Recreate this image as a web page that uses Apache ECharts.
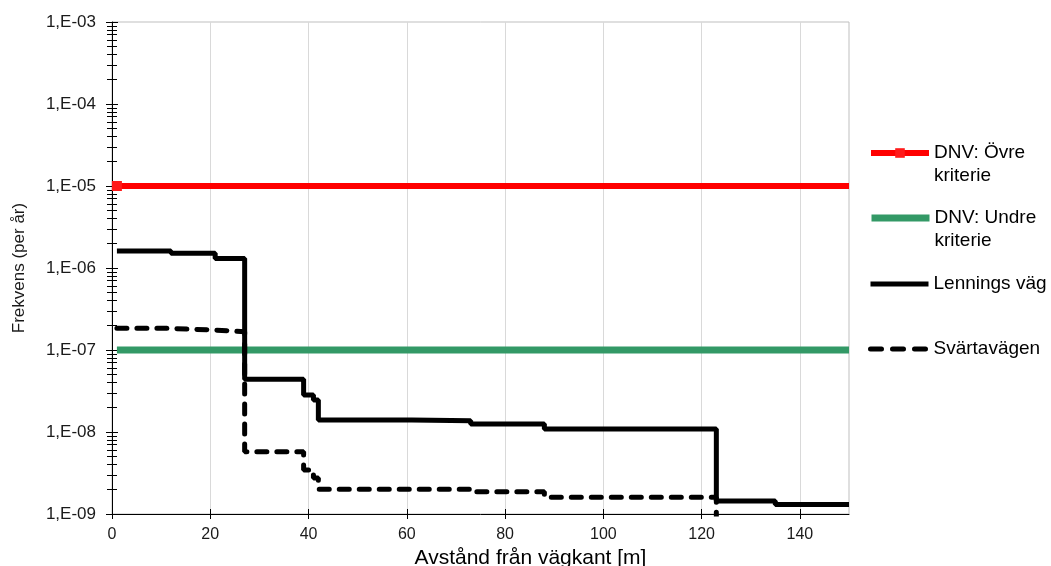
<!DOCTYPE html>
<html>
<head>
<meta charset="utf-8">
<script src="https://cdn.jsdelivr.net/npm/echarts@6/dist/echarts.min.js"></script>
<style>
html,body{margin:0;padding:0;background:#fff;}
#chart{width:1051px;height:566px;}
</style>
</head>
<body>
<div id="chart"></div>
<script>
// Distance (m) where each step begins, and frequency (per year)
var lenningsX = [1, 12, 21, 27, 39, 41, 42, 61, 73, 88, 123, 135, 150];
var lenningsY = [1.61e-6, 1.51e-6, 1.31e-6, 4.4e-8, 2.83e-8, 2.45e-8, 1.40e-8, 1.37e-8, 1.25e-8, 1.09e-8, 1.44e-9, 1.31e-9, 1.31e-9];
var svartaX = [1, 11, 21, 27, 39, 41, 42, 73, 88, 123, 150];
var svartaY = [1.84e-7, 1.75e-7, 1.67e-7, 5.75e-9, 3.44e-9, 2.75e-9, 2.0e-9, 1.87e-9, 1.60e-9, 5e-10, 5e-10];
var upperX = [1, 150];
var upperY = [1e-5, 1e-5];
var lowerX = [1, 150];
var lowerY = [1e-7, 1e-7];
var xTicks = [0, 20, 40, 60, 80, 100, 120, 140];
var yTickExp = [-9, -8, -7, -6, -5, -4, -3];
var yTickLabels = ['1,E-09', '1,E-08', '1,E-07', '1,E-06', '1,E-05', '1,E-04', '1,E-03'];
var seriesNames = ['DNV: Övre kriterie', 'DNV: Undre kriterie', 'Lennings väg', 'Svärtavägen'];

function zip(xs, ys) { return xs.map(function (x, i) { return [x, ys[i]]; }); }
function yLabel(v) {
  var e = Math.round(Math.log10(v));
  var i = yTickExp.indexOf(e);
  return i >= 0 ? yTickLabels[i] : '';
}

var FONT = 'Liberation Sans';
var chart = echarts.init(document.getElementById('chart'), null, {renderer: 'canvas'});

var upperData = zip(upperX, upperY).map(function (p, i) {
  return i === 0 ? {value: p} : {value: p, symbol: 'none'};
});

function legendItem(name, centerY, lineStyle, hideSymbol) {
  var lh = 23;
  var twoLine = /^DNV/.test(name);
  var o = {
    data: [name],
    left: 868, top: centerY - (twoLine ? lh * 1.5 : lh / 2), padding: 0,
    itemWidth: 58, itemHeight: 12, itemGap: 0,
    formatter: function (n) { return /^DNV/.test(n) ? n.replace(/^(DNV: \S+) /, '\n$1\n') : n; },
    textStyle: {fontFamily: FONT, fontSize: 19, color: '#000', lineHeight: lh},
    lineStyle: lineStyle,
    selectedMode: false
  };
  if (hideSymbol) o.itemStyle = {color: 'rgba(0,0,0,0)', borderWidth: 0};
  return o;
}

var option = {
  animation: false,
  backgroundColor: '#fff',
  grid: {left: 112, right: 202, top: 22, bottom: 52, show: true, borderColor: '#bfbfbf', borderWidth: 1,
         containLabel: false, outerBoundsMode: 'none'},
  legend: [
    legendItem(seriesNames[0], 153, {width: 6}, false),
    legendItem(seriesNames[1], 218, {width: 7}, true),
    legendItem(seriesNames[2], 284, {width: 5}, true),
    legendItem(seriesNames[3], 349, {width: 5, type: [11, 11], cap: 'round'}, true)
  ],
  xAxis: [{
    type: 'value', min: 0, max: 150, interval: 20,
    name: 'Avstånd från vägkant [m]', nameLocation: 'middle', nameGap: 34,
    nameTextStyle: {fontFamily: FONT, fontSize: 21, color: '#000', padding: [0, 0, 0, 100]},
    axisLine: {lineStyle: {color: '#000', width: 1}},
    axisTick: {show: true, inside: false, length: 5, lineStyle: {color: '#000'}, customValues: xTicks},
    axisLabel: {fontFamily: FONT, fontSize: 16, color: '#1a1a1a', margin: 13, customValues: xTicks},
    splitLine: {show: true, lineStyle: {color: '#d9d9d9', width: 1}}
  }, {
    type: 'value', min: 0, max: 150, interval: 20, position: 'bottom', gridIndex: 0,
    axisLine: {show: false},
    axisTick: {show: true, inside: true, length: 5, lineStyle: {color: '#000'}, customValues: xTicks},
    axisLabel: {show: false},
    splitLine: {show: false}
  }],
  yAxis: [{
    type: 'log', logBase: 10, min: 1e-9, max: 1e-3,
    name: 'Frekvens (per år)', nameLocation: 'middle', nameGap: 84, nameRotate: 90,
    nameTextStyle: {fontFamily: FONT, fontSize: 17, color: '#1a1a1a'},
    axisLine: {show: true, lineStyle: {color: '#000', width: 1}},
    axisTick: {show: true, inside: false, length: 6, lineStyle: {color: '#000'}},
    minorTick: {show: true, splitNumber: 9, length: 5, lineStyle: {color: '#000'}},
    axisLabel: {fontFamily: FONT, fontSize: 17, color: '#1a1a1a', margin: 16, formatter: yLabel},
    splitLine: {show: false},
    minorSplitLine: {show: false}
  }, {
    type: 'log', logBase: 10, min: 1e-9, max: 1e-3, position: 'left',
    axisLine: {show: false},
    axisTick: {show: true, inside: true, length: 6, lineStyle: {color: '#000'}},
    minorTick: {show: true, splitNumber: 9, length: 5, lineStyle: {color: '#000'}},
    axisLabel: {show: false},
    splitLine: {show: false}
  }],
  series: [{
    name: seriesNames[0], type: 'line', data: upperData,
    symbol: 'rect', symbolSize: 10, showSymbol: true,
    itemStyle: {color: '#ff1a1a'},
    lineStyle: {color: '#ff0000', width: 6}
  }, {
    name: seriesNames[1], type: 'line', data: zip(lowerX, lowerY),
    symbol: 'none',
    itemStyle: {color: '#339966'},
    lineStyle: {color: '#339966', width: 7}
  }, {
    name: seriesNames[2], type: 'line', step: 'end', data: zip(lenningsX, lenningsY),
    symbol: 'none', clip: true,
    itemStyle: {color: '#000'},
    lineStyle: {color: '#000', width: 5}
  }, {
    name: seriesNames[3], type: 'line', step: 'end', data: zip(svartaX, svartaY),
    symbol: 'none', clip: true,
    itemStyle: {color: '#000'},
    lineStyle: {color: '#000', width: 5, type: [10, 10], cap: 'round'}
  }]
};
chart.setOption(option);
</script>
</body>
</html>
